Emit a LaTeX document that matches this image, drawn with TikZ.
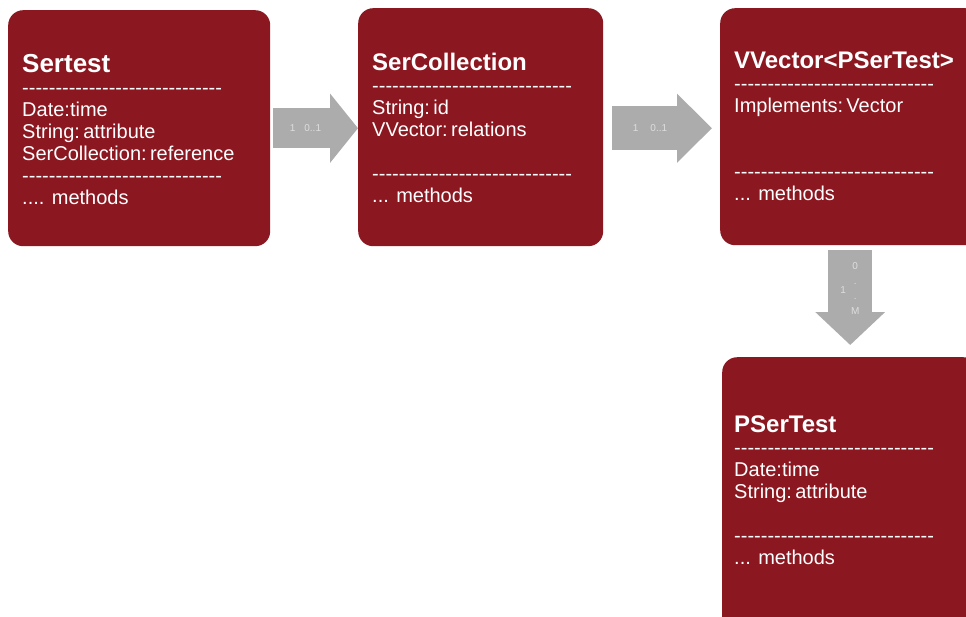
\documentclass[tikz,border=0pt]{standalone}
\usepackage{fontspec}
\setmainfont{Liberation Sans}
\usetikzlibrary{arrows.meta,positioning}

\definecolor{boxred}{RGB}{139,23,32}
\definecolor{arrowgray}{RGB}{172,172,172}
\definecolor{labelgray}{RGB}{222,222,222}
\newcommand{\sepline}{\foreach \i in {1,...,30}{-}}

\tikzset{
  classbox/.style={fill=boxred, rounded corners=15pt, anchor=north west, inner sep=0pt},
  classname/.style={anchor=base west, inner sep=0pt, text=white, font=\fontsize{24}{28}\selectfont\bfseries},
  members/.style={below right=6.6pt and 0pt of #1, inner sep=0pt, text=white, align=left, font=\fontsize{20}{22}\selectfont},
  mult/.style={text=labelgray, inner sep=0pt, font=\fontsize{10}{15}\selectfont},
}

\begin{document}
\begin{tikzpicture}[x=1pt,y=-1pt]
\useasboundingbox (0,0) rectangle (966,616);

% class boxes
\node[classbox, minimum width=262pt, minimum height=236pt] (sertest) at (8,10) {};
\node[classbox, minimum width=245pt, minimum height=238pt] (sercoll) at (358,8) {};
\node[classbox, minimum width=260pt, minimum height=237pt] (vvector) at (720,8) {};
\node[classbox, minimum width=256pt, minimum height=280pt] (psertest) at (722,357) {};

% names and members
\node[classname, font=\fontsize{26}{28}\selectfont\bfseries] (sertest-title) at (22,72) {Sertest};
\node[members=sertest-title.base west] (sertest-members) {\strut\sepline\\Date:time\\String:\,attribute\\SerCollection:\,reference\\\sepline\\.... methods};

\node[classname] (sercoll-title) at (372,70) {SerCollection};
\node[members=sercoll-title.base west] (sercoll-members) {\strut\sepline\\String:\,id\\VVector:\,relations\\[22pt]\sepline\\... methods};

\node[classname] (vvector-title) at (734,68) {VVector<PSerTest>};
\node[members=vvector-title.base west] (vvector-members) {\strut\sepline\\Implements:\,Vector\\[44pt]\sepline\\... methods};

\node[classname] (psertest-title) at (734,432) {PSerTest};
\node[members=psertest-title.base west] (psertest-members) {\strut\sepline\\Date:time\\String:\,attribute\\[22pt]\sepline\\... methods};

% associations
\draw[arrowgray, line width=40pt, -{Triangle[length=28pt,width=68pt]}, shorten <=3pt] (sertest.east) -- (sertest.east -| sercoll.west)
  node[mult, pos=0.4] (sertest-mult) {1\hspace{9pt}0..1};
\draw[arrowgray, line width=44pt, -{Triangle[length=35pt,width=67pt]}, shorten <=9pt, shorten >=8pt] (sercoll.east |- sertest.east) -- (vvector.west |- sertest.east)
  node[mult, pos=0.4] (sercoll-mult) {1\hspace{12pt}0..1};
\draw[arrowgray, line width=44pt, -{Triangle[length=33pt,width=68pt]}, shorten <=5pt, shorten >=12pt] (vvector.south) -- (psertest.north)
  node[mult, pos=0.39, xshift=5pt, align=center] (vvector-mult) {0\\.\\.\\M}
  node[mult, pos=0.4, xshift=-7pt] (vvector-one) {1};
\end{tikzpicture}
\end{document}
